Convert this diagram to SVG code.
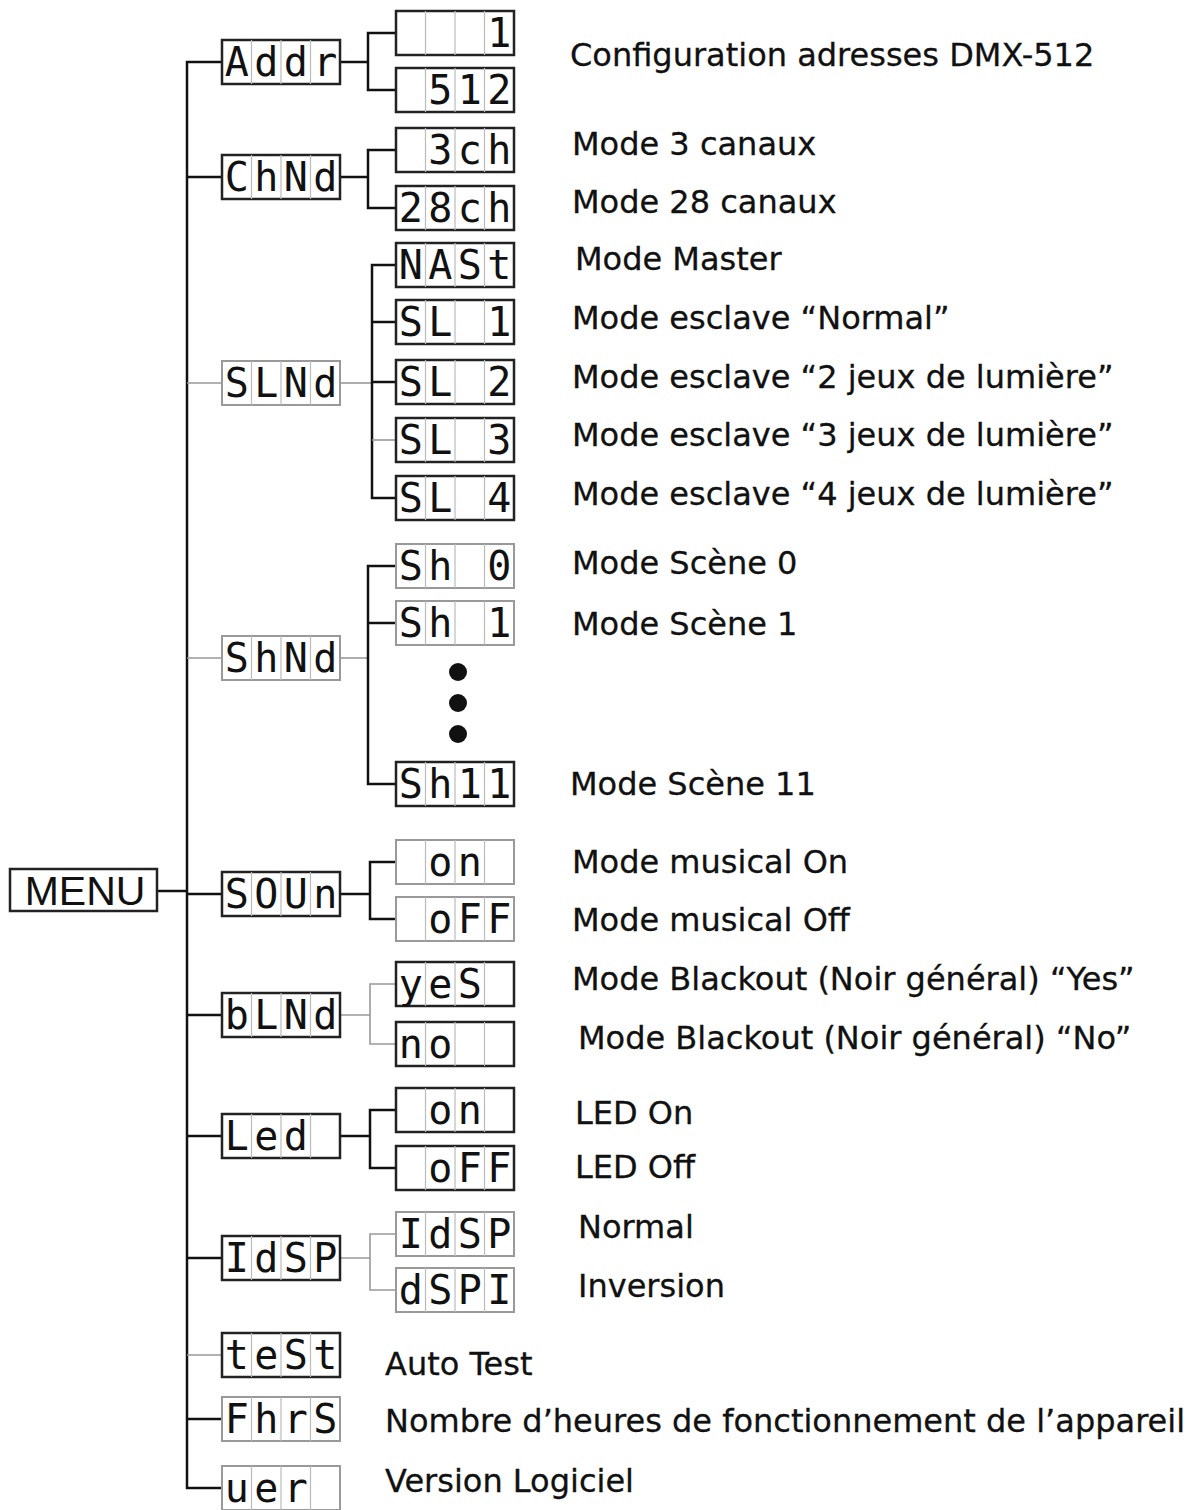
<svg xmlns="http://www.w3.org/2000/svg" width="1199" height="1510" viewBox="0 0 1199 1510">
<style>
.bd{fill:#fff;stroke:#222;stroke-width:2.5}
.bl{fill:#fff;stroke:#999;stroke-width:2}
.cell{stroke:#bbb;stroke-width:1.2}
.seg{font-family:"DejaVu Sans Mono",monospace;font-size:40px;text-anchor:middle;fill:#111}
.lbl{font-family:"DejaVu Sans",sans-serif;font-size:32px;fill:#111;stroke:#111;stroke-width:0.3}
.cd{stroke:#111;stroke-width:2.5;fill:none}
.cl{stroke:#999;stroke-width:1.6;fill:none}
</style>
<defs>
<g id="cells"><line class="cell" x1="29.5" y1="0" x2="29.5" y2="44"/><line class="cell" x1="59" y1="0" x2="59" y2="44"/><line class="cell" x1="88.5" y1="0" x2="88.5" y2="44"/></g>
</defs>
<g id="connectors">
<path class="cd" d="M222 62 H187 V1488 H222"/>
<line class="cd" x1="157" y1="891" x2="187" y2="891"/>
<line class="cd" x1="187" y1="177" x2="222" y2="177"/>
<line class="cl" x1="187" y1="383" x2="222" y2="383"/>
<line class="cl" x1="187" y1="658" x2="222" y2="658"/>
<line class="cd" x1="187" y1="894" x2="222" y2="894"/>
<line class="cd" x1="187" y1="1015" x2="222" y2="1015"/>
<line class="cd" x1="187" y1="1136" x2="222" y2="1136"/>
<line class="cd" x1="187" y1="1258" x2="222" y2="1258"/>
<line class="cl" x1="187" y1="1355" x2="222" y2="1355"/>
<line class="cd" x1="187" y1="1419" x2="222" y2="1419"/>
<path class="cd" d="M340 62 H368 M396 33 H368 V90 H396"/>
<path class="cd" d="M340 177 H368 M396 150 H368 V208 H396"/>
<path class="cl" d="M340 383 H372"/>
<path class="cd" d="M396 265 H372 V498 H396 M372 322 H396 M372 382 H396"/>
<path class="cl" d="M372 440 H396"/>
<path class="cl" d="M340 658 H368"/>
<path class="cd" d="M396 566 H368 V784 H396 M368 623 H396"/>
<path class="cd" d="M340 894 H370 M396 862 H370 V919 H396"/>
<path class="cl" d="M340 1015 H370 M396 984 H370 V1044 H396"/>
<path class="cd" d="M340 1136 H370 M396 1110 H370 V1168 H396"/>
<path class="cl" d="M340 1258 H370 M396 1234 H370 V1290 H396"/>
</g>
<g id="menu"><rect class="bd" x="10" y="869" width="147" height="42"/><text x="85" y="905" font-family="Liberation Sans,sans-serif" font-size="41" text-anchor="middle" fill="#111">MENU</text></g>
<g id="addr"><rect class="bd" x="222" y="40" width="118" height="44"/><use href="#cells" x="222" y="40"/><text class="seg" x="236.8 266.3 295.8 325.3" y="76">Addr</text></g>
<g id="addr-1"><rect class="bd" x="396" y="11" width="118" height="44"/><use href="#cells" x="396" y="11"/><text class="seg" x="499.3" y="47">1</text></g>
<g id="addr-512"><rect class="bd" x="396" y="68" width="118" height="44"/><use href="#cells" x="396" y="68"/><text class="seg" x="440.3 469.8 499.3" y="104">512</text></g>
<g id="chmd"><rect class="bd" x="222" y="155" width="118" height="44"/><use href="#cells" x="222" y="155"/><text class="seg" x="236.8 266.3 295.8 325.3" y="191">ChNd</text></g>
<g id="ch3"><rect class="bd" x="396" y="128" width="118" height="44"/><use href="#cells" x="396" y="128"/><text class="seg" x="440.3 469.8 499.3" y="164">3ch</text></g>
<g id="ch28"><rect class="bd" x="396" y="186" width="118" height="44"/><use href="#cells" x="396" y="186"/><text class="seg" x="410.8 440.3 469.8 499.3" y="222">28ch</text></g>
<g id="slmd"><rect class="bl" x="222" y="361" width="118" height="44"/><use href="#cells" x="222" y="361"/><text class="seg" x="236.8 266.3 295.8 325.3" y="397">SLNd</text></g>
<g id="mast"><rect class="bd" x="396" y="243" width="118" height="44"/><use href="#cells" x="396" y="243"/><text class="seg" x="410.8 440.3 469.8 499.3" y="279">NASt</text></g>
<g id="sl1"><rect class="bd" x="396" y="300" width="118" height="44"/><use href="#cells" x="396" y="300"/><text class="seg" x="410.8 440.3 499.3" y="336">SL1</text></g>
<g id="sl2"><rect class="bd" x="396" y="360" width="118" height="44"/><use href="#cells" x="396" y="360"/><text class="seg" x="410.8 440.3 499.3" y="396">SL2</text></g>
<g id="sl3"><rect class="bd" x="396" y="418" width="118" height="44"/><use href="#cells" x="396" y="418"/><text class="seg" x="410.8 440.3 499.3" y="454">SL3</text></g>
<g id="sl4"><rect class="bd" x="396" y="476" width="118" height="44"/><use href="#cells" x="396" y="476"/><text class="seg" x="410.8 440.3 499.3" y="512">SL4</text></g>
<g id="shmd"><rect class="bl" x="222" y="636" width="118" height="44"/><use href="#cells" x="222" y="636"/><text class="seg" x="236.8 266.3 295.8 325.3" y="672">ShNd</text></g>
<g id="sh0"><rect class="bl" x="396" y="544" width="118" height="44"/><use href="#cells" x="396" y="544"/><text class="seg" x="410.8 440.3 499.3" y="580">Sh0</text></g>
<g id="sh1"><rect class="bl" x="396" y="601" width="118" height="44"/><use href="#cells" x="396" y="601"/><text class="seg" x="410.8 440.3 499.3" y="637">Sh1</text></g>
<g id="dots"><circle cx="458" cy="672" r="9" fill="#111"/><circle cx="458" cy="703" r="9" fill="#111"/><circle cx="458" cy="734" r="9" fill="#111"/></g>
<g id="sh11"><rect class="bd" x="396" y="762" width="118" height="44"/><use href="#cells" x="396" y="762"/><text class="seg" x="410.8 440.3 469.8 499.3" y="798">Sh11</text></g>
<g id="soun"><rect class="bd" x="222" y="872" width="118" height="44"/><use href="#cells" x="222" y="872"/><text class="seg" x="236.8 266.3 295.8 325.3" y="908">SOUn</text></g>
<g id="snd-on"><rect class="bl" x="396" y="840" width="118" height="44"/><use href="#cells" x="396" y="840"/><text class="seg" x="440.3 469.8" y="876">on</text></g>
<g id="snd-off"><rect class="bl" x="396" y="897" width="118" height="44"/><use href="#cells" x="396" y="897"/><text class="seg" x="440.3 469.8 499.3" y="933">oFF</text></g>
<g id="blmd"><rect class="bd" x="222" y="993" width="118" height="44"/><use href="#cells" x="222" y="993"/><text class="seg" x="236.8 266.3 295.8 325.3" y="1029">bLNd</text></g>
<g id="yes"><rect class="bd" x="396" y="962" width="118" height="44"/><use href="#cells" x="396" y="962"/><text class="seg" x="410.8 440.3 469.8" y="998">yeS</text></g>
<g id="no"><rect class="bd" x="396" y="1022" width="118" height="44"/><use href="#cells" x="396" y="1022"/><text class="seg" x="410.8 440.3" y="1058">no</text></g>
<g id="led"><rect class="bd" x="222" y="1114" width="118" height="44"/><use href="#cells" x="222" y="1114"/><text class="seg" x="236.8 266.3 295.8" y="1150">Led</text></g>
<g id="led-on"><rect class="bd" x="396" y="1088" width="118" height="44"/><use href="#cells" x="396" y="1088"/><text class="seg" x="440.3 469.8" y="1124">on</text></g>
<g id="led-off"><rect class="bd" x="396" y="1146" width="118" height="44"/><use href="#cells" x="396" y="1146"/><text class="seg" x="440.3 469.8 499.3" y="1182">oFF</text></g>
<g id="idsp"><rect class="bd" x="222" y="1236" width="118" height="44"/><use href="#cells" x="222" y="1236"/><text class="seg" x="236.8 266.3 295.8 325.3" y="1272">IdSP</text></g>
<g id="idsp-n"><rect class="bl" x="396" y="1212" width="118" height="44"/><use href="#cells" x="396" y="1212"/><text class="seg" x="410.8 440.3 469.8 499.3" y="1248">IdSP</text></g>
<g id="dspi"><rect class="bl" x="396" y="1268" width="118" height="44"/><use href="#cells" x="396" y="1268"/><text class="seg" x="410.8 440.3 469.8 499.3" y="1304">dSPI</text></g>
<g id="test"><rect class="bd" x="222" y="1333" width="118" height="44"/><use href="#cells" x="222" y="1333"/><text class="seg" x="236.8 266.3 295.8 325.3" y="1369">teSt</text></g>
<g id="fhrs"><rect class="bl" x="222" y="1397" width="118" height="44"/><use href="#cells" x="222" y="1397"/><text class="seg" x="236.8 266.3 295.8 325.3" y="1433">FhrS</text></g>
<g id="ver"><rect class="bl" x="222" y="1466" width="118" height="44"/><use href="#cells" x="222" y="1466"/><text class="seg" x="236.8 266.3 295.8" y="1502">uer</text></g>
<g id="labels">
<text class="lbl" x="570" y="66">Configuration adresses DMX-512</text>
<text class="lbl" x="572" y="155">Mode 3 canaux</text>
<text class="lbl" x="572" y="213">Mode 28 canaux</text>
<text class="lbl" x="575" y="270">Mode Master</text>
<text class="lbl" x="572" y="329">Mode esclave “Normal”</text>
<text class="lbl" x="572" y="388">Mode esclave “2 jeux de lumière”</text>
<text class="lbl" x="572" y="446">Mode esclave “3 jeux de lumière”</text>
<text class="lbl" x="572" y="505">Mode esclave “4 jeux de lumière”</text>
<text class="lbl" x="572" y="574">Mode Scène 0</text>
<text class="lbl" x="572" y="635">Mode Scène 1</text>
<text class="lbl" x="570" y="795">Mode Scène 11</text>
<text class="lbl" x="572" y="873">Mode musical On</text>
<text class="lbl" x="572" y="931">Mode musical Off</text>
<text class="lbl" x="572" y="990">Mode Blackout (Noir général) “Yes”</text>
<text class="lbl" x="578" y="1049">Mode Blackout (Noir général) “No”</text>
<text class="lbl" x="575" y="1124">LED On</text>
<text class="lbl" x="575" y="1178">LED Off</text>
<text class="lbl" x="578" y="1238">Normal</text>
<text class="lbl" x="578" y="1297">Inversion</text>
<text class="lbl" x="385" y="1375">Auto Test</text>
<text class="lbl" x="385" y="1432">Nombre d’heures de fonctionnement de l’appareil</text>
<text class="lbl" x="385" y="1492">Version Logiciel</text>
</g>
</svg>
